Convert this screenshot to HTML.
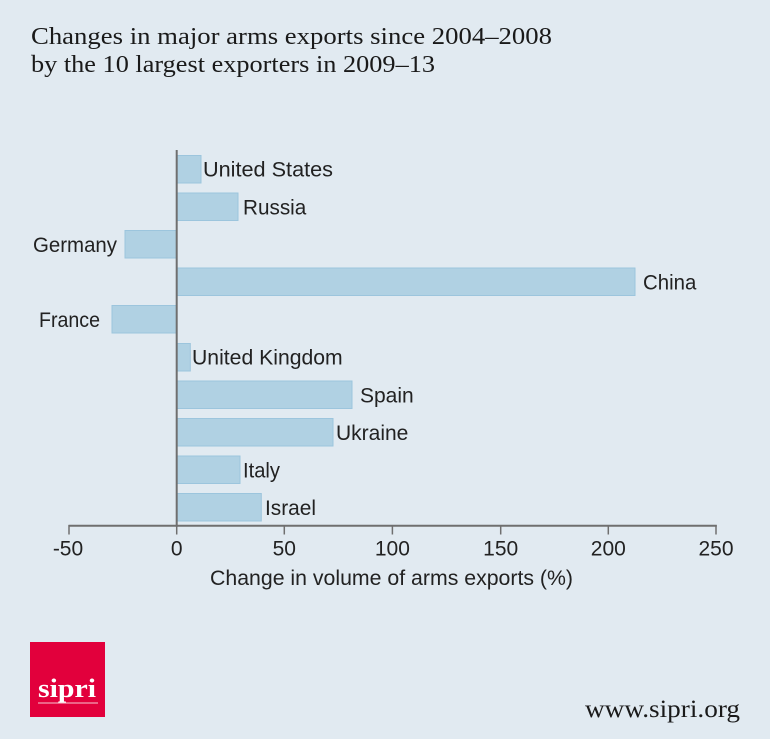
<!DOCTYPE html>
<html>
<head>
<meta charset="utf-8">
<style>
  html, body { margin: 0; padding: 0; background: #e1eaf1; }
  svg { display: block; }
  .lbl { font-family: "Liberation Sans", Arial, sans-serif; font-size: 21px; fill: #222; }
  .tick { font-family: "Liberation Sans", Arial, sans-serif; font-size: 21px; fill: #222; }
  .ttl { font-family: "Liberation Serif", "Times New Roman", serif; font-size: 24px; fill: #1a1a1a; }
</style>
</head>
<body>
<svg width="770" height="739" viewBox="0 0 770 739" xmlns="http://www.w3.org/2000/svg">
  <rect x="0" y="0" width="770" height="739" fill="#e1eaf1"/>

  <!-- Title -->
  <text class="ttl" x="31" y="44" textLength="521" lengthAdjust="spacingAndGlyphs">Changes in major arms exports since 2004–2008</text>
  <text class="ttl" x="31" y="72" textLength="404" lengthAdjust="spacingAndGlyphs">by the 10 largest exporters in 2009–13</text>

  <!-- Bars -->
  <g fill="#b0d1e3" stroke="#9cc5dd" stroke-width="1">
    <rect x="176.7" y="155.5" width="24.3" height="27.5"/>
    <rect x="176.7" y="193" width="61.3" height="27.5"/>
    <rect x="125" y="230.5" width="51.7" height="27.5"/>
    <rect x="176.7" y="268" width="458.3" height="27.5"/>
    <rect x="112" y="305.5" width="64.7" height="27.5"/>
    <rect x="176.7" y="343.5" width="13.6" height="27.5"/>
    <rect x="176.7" y="381" width="175.3" height="27.5"/>
    <rect x="176.7" y="418.5" width="156.3" height="27.5"/>
    <rect x="176.7" y="456" width="63.3" height="27.5"/>
    <rect x="176.7" y="493.5" width="84.6" height="27.5"/>
  </g>

  <!-- Bar labels -->
  <text class="lbl" x="203" y="176.7" textLength="130" lengthAdjust="spacingAndGlyphs">United States</text>
  <text class="lbl" x="243" y="214.3" textLength="63.3" lengthAdjust="spacingAndGlyphs">Russia</text>
  <text class="lbl" x="33" y="251.9" textLength="84" lengthAdjust="spacingAndGlyphs">Germany</text>
  <text class="lbl" x="643" y="289.5" textLength="53.3" lengthAdjust="spacingAndGlyphs">China</text>
  <text class="lbl" x="39" y="327.1" textLength="61" lengthAdjust="spacingAndGlyphs">France</text>
  <text class="lbl" x="192" y="364.7" textLength="150.7" lengthAdjust="spacingAndGlyphs">United Kingdom</text>
  <text class="lbl" x="360" y="402.3">Spain</text>
  <text class="lbl" x="336" y="439.9">Ukraine</text>
  <text class="lbl" x="243" y="477.5" textLength="37" lengthAdjust="spacingAndGlyphs">Italy</text>
  <text class="lbl" x="265" y="515.1" textLength="51" lengthAdjust="spacingAndGlyphs">Israel</text>

  <!-- Axes -->
  <line x1="176.7" y1="150" x2="176.7" y2="526.7" stroke="#6f6f6f" stroke-width="2"/>
  <line x1="68.5" y1="525.7" x2="716.8" y2="525.7" stroke="#6f6f6f" stroke-width="2"/>
  <g stroke="#6f6f6f" stroke-width="1.5">
    <line x1="69" y1="525" x2="69" y2="534.5"/>
    <line x1="176.7" y1="525" x2="176.7" y2="534.5"/>
    <line x1="284.3" y1="525" x2="284.3" y2="534.5"/>
    <line x1="392.4" y1="525" x2="392.4" y2="534.5"/>
    <line x1="500.7" y1="525" x2="500.7" y2="534.5"/>
    <line x1="608.3" y1="525" x2="608.3" y2="534.5"/>
    <line x1="716" y1="525" x2="716" y2="534.5"/>
  </g>

  <!-- Tick labels -->
  <g class="tick" text-anchor="middle">
    <text x="68" y="555.5">-50</text>
    <text x="176.7" y="555.5">0</text>
    <text x="284.3" y="555.5">50</text>
    <text x="392.4" y="555.5">100</text>
    <text x="500.7" y="555.5">150</text>
    <text x="608.3" y="555.5">200</text>
    <text x="716" y="555.5">250</text>
  </g>

  <!-- Axis title -->
  <text class="tick" x="210" y="585" textLength="363" lengthAdjust="spacingAndGlyphs">Change in volume of arms exports (%)</text>

  <!-- Logo -->
  <rect x="30" y="642" width="75" height="75" fill="#e2003c"/>
  <text x="38" y="697" font-family="'Liberation Serif', 'Times New Roman', serif" font-weight="bold" font-size="26" fill="#ffffff" textLength="58" lengthAdjust="spacingAndGlyphs">sipri</text>
  <line x1="38" y1="703" x2="98" y2="703" stroke="#f6c7d2" stroke-width="1"/>

  <!-- URL -->
  <text x="585" y="717" font-family="'Liberation Serif', 'Times New Roman', serif" font-size="25" fill="#1a1a1a" textLength="155" lengthAdjust="spacingAndGlyphs">www.sipri.org</text>
</svg>
</body>
</html>
